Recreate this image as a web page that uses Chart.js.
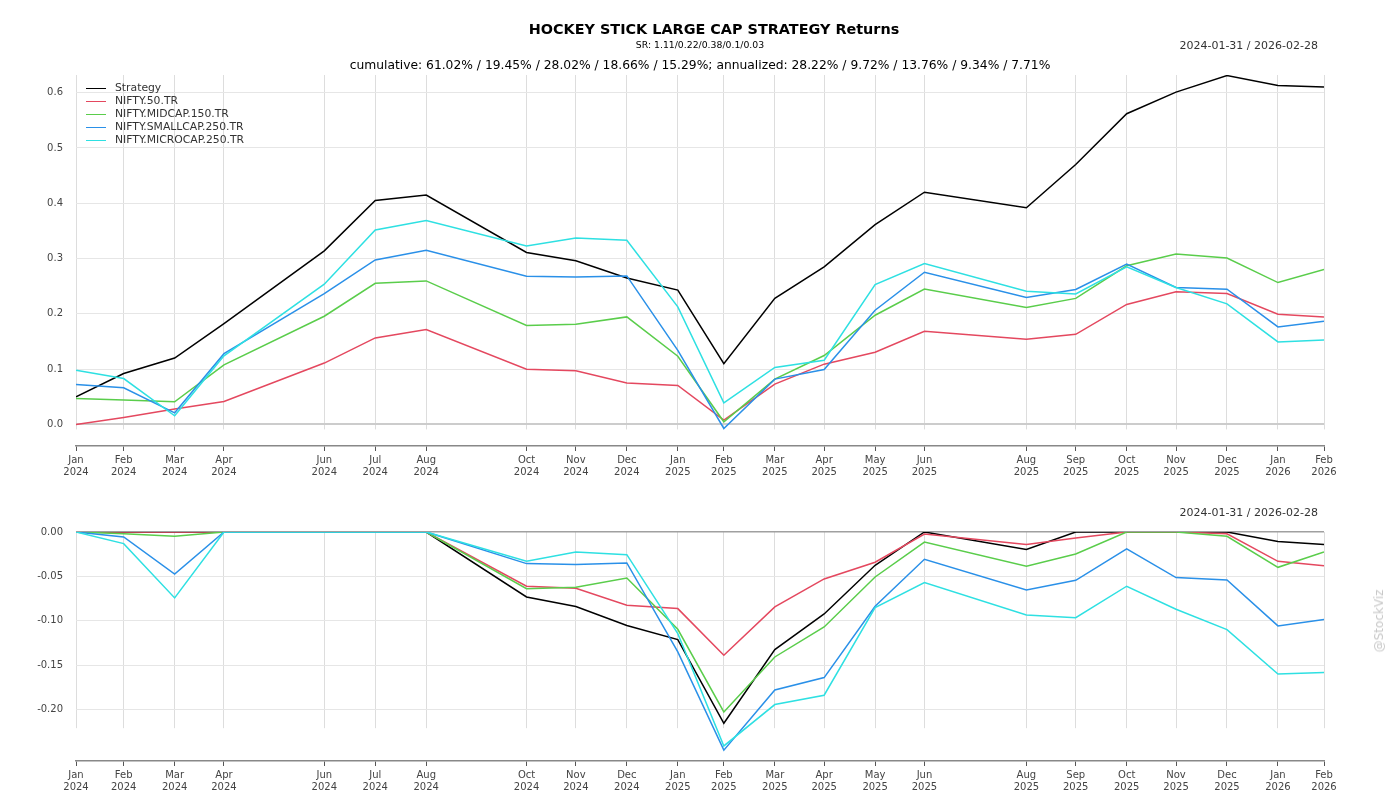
<!DOCTYPE html>
<html>
<head>
<meta charset="utf-8">
<script src="https://cdn.jsdelivr.net/npm/chart.js@4.4.1/dist/chart.umd.min.js"></script>
<style>
  html, body { margin: 0; padding: 0; background: #fff; }
  body { width: 1400px; height: 800px; position: relative; overflow: hidden; font-family: "DejaVu Sans", sans-serif; }
  .box { position: absolute; left: 0; width: 1400px; }
  .txt { position: absolute; white-space: nowrap; line-height: 1; }
  .leg { position: absolute; left: 86px; font-size: 10.8px; color: #333; white-space: nowrap; line-height: 1; }
  .leg span.sw { position: absolute; left: 0; width: 20px; height: 0; border-top: 1.2px solid; top: 5px; }
  .leg span.lb { position: absolute; left: 29px; top: 0; }
</style>
</head>
<body>
<div class="box" style="top:0;height:480px;"><canvas id="top"></canvas></div>
<div class="box" style="top:480px;height:320px;"><canvas id="bot"></canvas></div>

<div class="txt" style="left:714px;top:22px;transform:translateX(-50%);font-weight:bold;font-size:14.4px;color:#000;">HOCKEY STICK LARGE CAP STRATEGY Returns</div>
<div class="txt" style="left:700px;top:40px;transform:translateX(-50%);font-size:9.3px;color:#000;">SR: 1.11/0.22/0.38/0.1/0.03</div>
<div class="txt" style="right:82px;top:40px;font-size:11px;color:#333;">2024-01-31 / 2026-02-28</div>
<div class="txt" style="left:700px;top:58.5px;transform:translateX(-50%);font-size:12.3px;color:#000;">cumulative: 61.02% / 19.45% / 28.02% / 18.66% / 15.29%; annualized: 28.22% / 9.72% / 13.76% / 9.34% / 7.71%</div>
<div class="txt" style="right:82px;top:507px;font-size:11px;color:#333;">2024-01-31 / 2026-02-28</div>
<div class="txt" style="left:1379px;top:621px;transform:translate(-50%,-50%) rotate(-90deg);font-size:12px;color:#c8c8c8;">@StockViz</div>
<div id="legend"></div>

<script>
// ---- data ----
const dates = ["2024-01-31","2024-02-29","2024-03-31","2024-04-30","2024-06-30","2024-07-31","2024-08-31",
  "2024-10-31","2024-11-30","2024-12-31","2025-01-31","2025-02-28","2025-03-31","2025-04-30","2025-05-31",
  "2025-06-30","2025-08-31","2025-09-30","2025-10-31","2025-11-30","2025-12-31","2026-01-31","2026-02-28"];
const monthNames = ["Jan","Feb","Mar","Apr","May","Jun","Jul","Aug","Sep","Oct","Nov","Dec"];

const seriesNames = ["Strategy","NIFTY.50.TR","NIFTY.MIDCAP.150.TR","NIFTY.SMALLCAP.250.TR","NIFTY.MICROCAP.250.TR"];
const seriesColors = ["#000000","#e4485f","#5acd4b","#2a90e8","#2ee0e2"];

// cumulative returns
const retStrategy = [0.050,0.092,0.120,0.1825,0.314,0.405,0.415,0.311,0.296,0.265,0.243,0.110,0.228,0.285,0.3615,0.420,0.392,0.470,0.562,0.601,0.631,0.613,0.6102];
const retNifty50 = [0.000,0.0127,0.028,0.0415,0.111,0.1565,0.1717,0.100,0.097,0.075,0.0705,0.008,0.073,0.109,0.1307,0.1686,0.154,0.163,0.217,0.240,0.2367,0.1993,0.1945];
const retMidcap = [0.047,0.044,0.041,0.1077,0.1957,0.2553,0.2596,0.179,0.1813,0.1945,0.1234,0.0048,0.082,0.1247,0.1975,0.245,0.2114,0.228,0.287,0.3084,0.301,0.2566,0.2802];
const retSmallcap = [0.0723,0.0662,0.021,0.128,0.2367,0.2975,0.315,0.268,0.2668,0.2686,0.134,-0.0073,0.082,0.0994,0.2066,0.2753,0.2295,0.244,0.290,0.2476,0.2445,0.1764,0.1866];
const retMicrocap = [0.098,0.083,0.0156,0.124,0.2536,0.3517,0.3687,0.3228,0.3373,0.333,0.2126,0.039,0.103,0.1162,0.253,0.291,0.241,0.236,0.2849,0.2476,0.218,0.1493,0.1529];

// drawdowns
const ddStrategy = [0,0,0,0,0,0,0,-0.0732,-0.084,-0.1054,-0.1212,-0.2155,-0.1325,-0.0923,-0.0375,0,-0.0198,0,0,0,0,-0.0108,-0.0141];
const ddNifty50 = [0,0,0,0,0,0,0,-0.0611,-0.0634,-0.0825,-0.0863,-0.1389,-0.0844,-0.0529,-0.0341,-0.0023,-0.0142,-0.0067,0,0,-0.002,-0.033,-0.0379];
const ddMidcap = [0,-0.0019,-0.0048,0,0,0,0,-0.0638,-0.0623,-0.0518,-0.1096,-0.2027,-0.1408,-0.107,-0.0507,-0.0113,-0.0386,-0.0248,0,0,-0.0048,-0.0398,-0.0225];
const ddSmallcap = [0,-0.0056,-0.0473,0,0,0,0,-0.0356,-0.0367,-0.0349,-0.1351,-0.2458,-0.178,-0.164,-0.0837,-0.0307,-0.0653,-0.0544,-0.0191,-0.0514,-0.054,-0.1058,-0.0987];
const ddMicrocap = [0,-0.0131,-0.0743,0,0,0,0,-0.033,-0.0225,-0.0255,-0.1145,-0.241,-0.1944,-0.1839,-0.0852,-0.057,-0.0935,-0.0965,-0.0611,-0.087,-0.11,-0.16,-0.1583];

const topTicks = [0.0,0.1,0.2,0.3,0.4,0.5,0.6];
const botTicks = [0.0,-0.05,-0.10,-0.15,-0.20];

// ---- build ----
const DAY = 86400000;
const t0 = Date.parse(dates[0]);
const xVals = dates.map(d => Math.round((Date.parse(d) - t0) / DAY));
const xLabels = dates.map(d => { const [y,m] = d.split("-"); return [monthNames[+m-1], y]; });

function mkDatasets(arrs) {
  return arrs.map((arr, i) => ({
    label: seriesNames[i],
    data: arr.map((v, j) => ({x: xVals[j], y: v})),
    borderColor: seriesColors[i],
    backgroundColor: seriesColors[i],
    borderWidth: 1.5,
    pointRadius: 0,
    tension: 0,
    fill: false
  })).reverse();
}

// covers vertical gridlines below a value (matplotlib-style offset spine look)
const gridClip = {
  id: 'gridClip',
  beforeDatasetsDraw(chart, args, opts) {
    const ys = chart.scales.y, ca = chart.chartArea, ctx = chart.ctx;
    const yp = ys.getPixelForValue(opts.below);
    ctx.save();
    ctx.fillStyle = '#ffffff';
    ctx.fillRect(ca.left - 2, yp, ca.right - ca.left + 4, ca.bottom - yp - 1);
    ctx.restore();
  }
};

function mkOptions(cfg) {
  return {
    responsive: true,
    maintainAspectRatio: false,
    animation: false,
    layout: { padding: { top: cfg.padTop, right: 76, left: 0, bottom: 0 } },
    plugins: { legend: { display: false }, tooltip: { enabled: false }, gridClip: { below: cfg.clipBelow } },
    scales: {
      x: {
        type: 'linear',
        min: xVals[0],
        max: xVals[xVals.length - 1],
        afterBuildTicks: (s) => { s.ticks = xVals.map(v => ({value: v})); },
        afterFit: (s) => { s.height = cfg.xHeight; },
        grid: { color: '#dddddd', lineWidth: 1, tickLength: 5, tickColor: '#555555', tickWidth: 1 },
        border: { display: true, color: '#888888', width: 1.5 },
        ticks: {
          autoSkip: false, maxRotation: 0, padding: 3,
          color: '#444444', font: { family: 'DejaVu Sans', size: 10, lineHeight: 1.2 },
          callback: (v) => { const i = xVals.indexOf(v); return i >= 0 ? xLabels[i] : ''; }
        }
      },
      y: {
        type: 'linear',
        min: cfg.yMin,
        max: cfg.yMax,
        afterBuildTicks: (s) => { s.ticks = cfg.ticks.map(v => ({value: v})); },
        afterFit: (s) => { s.width = 76; },
        grid: {
          drawTicks: false,
          color: (c) => (c.tick && Math.abs(c.tick.value) < 1e-9) ? cfg.zeroColor : '#e6e6e6',
          lineWidth: (c) => (c.tick && Math.abs(c.tick.value) < 1e-9) ? cfg.zeroWidth : 1
        },
        border: { display: false },
        ticks: {
          padding: 13, color: '#444444', font: { family: 'DejaVu Sans', size: 10 },
          callback: (v) => v.toFixed(cfg.decimals)
        }
      }
    }
  };
}

new Chart(document.getElementById('top'), {
  type: 'line',
  data: { datasets: mkDatasets([retStrategy, retNifty50, retMidcap, retSmallcap, retMicrocap]) },
  options: mkOptions({ padTop: 75, xHeight: 34, yMin: -0.039, yMax: 0.632, ticks: topTicks, decimals: 1,
    zeroColor: '#cccccc', zeroWidth: 2, clipBelow: -0.009 }),
  plugins: [gridClip]
});

new Chart(document.getElementById('bot'), {
  type: 'line',
  data: { datasets: mkDatasets([ddStrategy, ddNifty50, ddMidcap, ddSmallcap, ddMicrocap]) },
  options: mkOptions({ padTop: 52, xHeight: 39, yMin: -0.258, yMax: 0, ticks: botTicks, decimals: 2,
    zeroColor: '#a0a0a0', zeroWidth: 1.5, clipBelow: -0.221 }),
  plugins: [gridClip]
});

// legend (HTML text)
const legEl = document.getElementById('legend');
seriesNames.forEach((n, i) => {
  const d = document.createElement('div');
  d.className = 'leg';
  d.style.top = (83 + i * 13) + 'px';
  d.innerHTML = '<span class="sw" style="border-color:' + seriesColors[i] + '"></span><span class="lb"></span>';
  d.querySelector('.lb').textContent = n;
  legEl.appendChild(d);
});
</script>
</body>
</html>
